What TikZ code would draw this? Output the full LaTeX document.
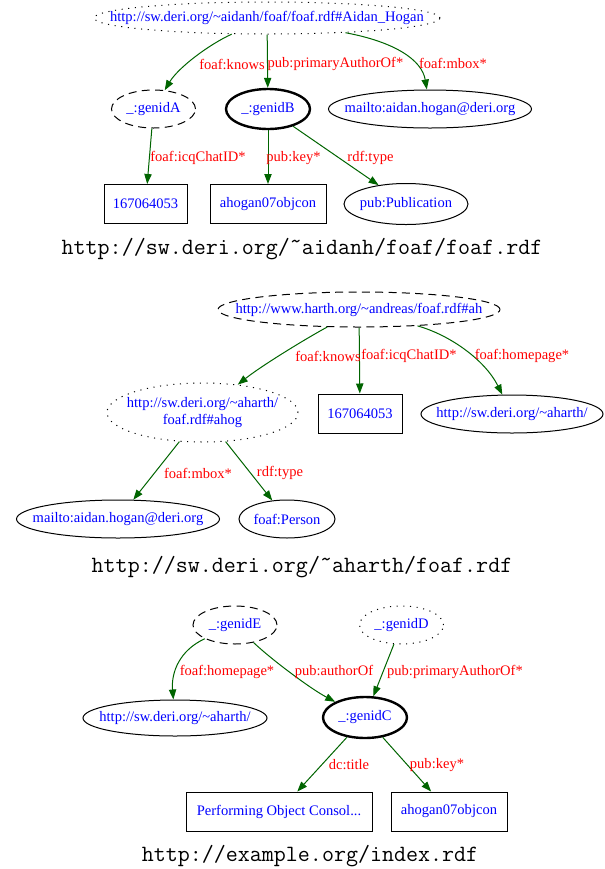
\documentclass[tikz,border=0pt]{standalone}
\usepackage{fontspec}
\setmainfont{Liberation Serif}
\usetikzlibrary{shapes.geometric,arrows.meta}

\begin{document}
\begin{tikzpicture}[x=0.75pt,y=-0.75pt,
		every node/.style={font=\fontsize{10.9}{13}\selectfont, inner sep=0pt},
		uri/.style={ellipse, draw, text=res, line width=0.75pt},
		lit/.style={rectangle, draw, text=res, line width=0.75pt, minimum height=29.25pt},
		dotline/.style={dash pattern=on 0.8pt off 4.2pt},
		dashline/.style={dash pattern=on 6pt off 4pt},
		bnode/.style={line width=1.8pt},
		prop/.style={text=prop},
		edge/.style={draw=edgecol, line width=0.75pt, -{Triangle[length=7.5pt,width=5.5pt]}},
		title/.style={font=\ttfamily\fontsize{17.5}{20}\selectfont}]
		\definecolor{res}{rgb}{0, 0, 1}
		\definecolor{prop}{rgb}{1, 0, 0}
		\definecolor{edgecol}{rgb}{0, 0.392, 0}
		\def\flat#1{\makebox[0pt]{#1}}
		\def\ttil{\symbol{"02DC}}
		\useasboundingbox (0,0) rectangle (605,869);

		% aidanh/foaf/foaf.rdf
		\node[uri, dotline, minimum width=259.5pt, minimum height=24pt] (aidan) at (267,18) {\flat{http://sw.deri.org/\textasciitilde aidanh/foaf/foaf.rdf\#Aidan\_Hogan}};
		\node[uri, dashline, minimum width=63pt, minimum height=28.5pt] (genA) at (153.5,109) {\_:genidA};
		\node[uri, bnode, minimum width=63pt, minimum height=30pt] (genB) at (268,109) {\_:genidB};
		\node[uri, minimum width=152.25pt, minimum height=28.5pt] (mbox1) at (430,109) {\flat{mailto:aidan.hogan@deri.org}};
		\node[lit, minimum width=62.25pt] (icq1) at (145.5,204) {167064053};
		\node[lit, minimum width=87pt] (key1) at (268,204) {ahogan07objcon};
		\node[uri, minimum width=93pt, minimum height=30.75pt] (publ) at (406,204) {\flat{pub:Publication}};

		\draw[edge] (aidan) .. controls (208,45) and (178,68) .. (genA);
		\draw[edge] (aidan) -- (genB);
		\draw[edge] (aidan) .. controls (395,42) and (422,60) .. (mbox1);
		\draw[edge] (genA) -- (icq1);
		\draw[edge] (genB) -- (key1);
		\draw[edge] (genB) -- (publ);

		\node[prop] (knows1) at (232,64) {foaf:knows};
		\node[prop] (prim1) at (335.5,64) {pub:primaryAuthorOf*};
		\node[prop] (mboxl1) at (453,63) {foaf:mbox*};
		\node[prop] (icql1) at (198,158) {foaf:icqChatID*};
		\node[prop] (keyl1) at (293.5,158) {pub:key*};
		\node[prop] (typel1) at (370.5,158) {rdf:type};

		\node[title] (title1) at (302,249) {http://sw.deri.org/\ttil aidanh/foaf/foaf.rdf};

		% aharth/foaf.rdf
		\node[uri, dashline, minimum width=211.5pt, minimum height=26.25pt] (harth) at (359,309.5) {\flat{http://www.harth.org/\textasciitilde andreas/foaf.rdf\#ah}};
		\node[uri, dotline, minimum width=143.25pt, minimum height=44.25pt] (ahog) at (202.5,412.5) {\flat{\begin{tabular}{@{}c@{}}http://sw.deri.org/\textasciitilde aharth/\\foaf.rdf\#ahog\end{tabular}}};
		\node[lit, minimum width=63pt] (icq2) at (360,413.5) {167064053};
		\node[uri, minimum width=136.5pt, minimum height=28.5pt] (home2) at (512,414) {\flat{http://sw.deri.org/\textasciitilde aharth/}};
		\node[uri, minimum width=152.25pt, minimum height=28.5pt] (mbox2) at (118,519) {\flat{mailto:aidan.hogan@deri.org}};
		\node[uri, minimum width=72pt, minimum height=28.5pt] (person) at (287,519) {\flat{foaf:Person}};

		\draw[edge] (harth) .. controls (300,342) and (260,367) .. (ahog);
		\draw[edge] (harth) -- (icq2);
		\draw[edge] (harth) .. controls (450,335) and (485,360) .. (home2);
		\draw[edge] (ahog) -- (mbox2);
		\draw[edge] (ahog) -- (person);

		\node[prop] (knows2) at (328,356) {foaf:knows};
		\node[prop] (icql2) at (409,356) {foaf:icqChatID*};
		\node[prop] (homel2) at (522,356) {foaf:homepage*};
		\node[prop] (mboxl2) at (198,473) {foaf:mbox*};
		\node[prop] (typel2) at (280,473) {rdf:type};

		\node[title] (title2) at (302,567) {http://sw.deri.org/\ttil aharth/foaf.rdf};

		% example.org/index.rdf
		\node[uri, dashline, minimum width=63pt, minimum height=28.5pt] (genE) at (235,625) {\_:genidE};
		\node[uri, dotline, minimum width=63pt, minimum height=28.5pt] (genD) at (401.5,625) {\_:genidD};
		\node[uri, minimum width=138pt, minimum height=27pt] (home3) at (175,718) {\flat{http://sw.deri.org/\textasciitilde aharth/}};
		\node[uri, bnode, minimum width=63pt, minimum height=30.75pt] (genC) at (365,717.5) {\_:genidC};
		\node[lit, minimum width=139.5pt] (dctitle) at (279,811.5) {Performing Object Consol...};
		\node[lit, minimum width=87pt] (key3) at (449,811.5) {ahogan07objcon};

		\draw[edge] (genE) .. controls (180,650) and (171,672) .. (home3);
		\draw[edge] (genE) .. controls (272,660) and (311,689) .. (genC);
		\draw[edge] (genD) -- (genC);
		\draw[edge] (genC) -- (dctitle);
		\draw[edge] (genC) -- (key3);

		\node[prop] (homel3) at (227,672) {foaf:homepage*};
		\node[prop] (authl3) at (334,672) {pub:authorOf};
		\node[prop] (prim3) at (455,672) {pub:primaryAuthorOf*};
		\node[prop] (titlel3) at (349,765) {dc:title};
		\node[prop] (keyl3) at (437,765) {pub:key*};

		\node[title] (title3) at (310,856) {http://example.org/index.rdf};
	\end{tikzpicture}
\end{document}
